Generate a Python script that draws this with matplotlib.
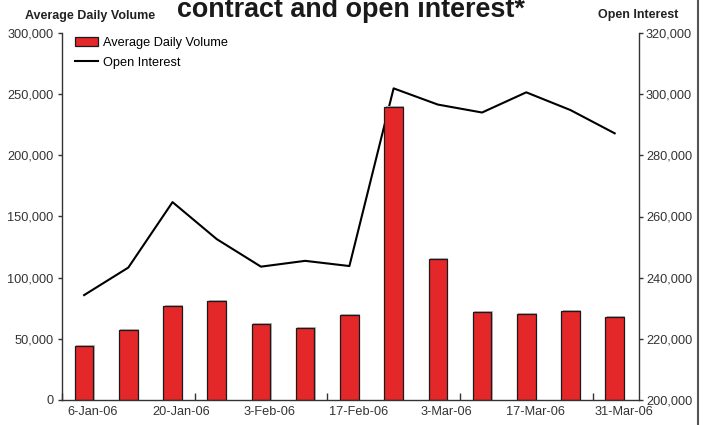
import numpy as np
import matplotlib.pyplot as plt
from matplotlib.ticker import FuncFormatter

weeks = ['6-Jan-06', '13-Jan-06', '20-Jan-06', '27-Jan-06', '3-Feb-06', '10-Feb-06',
         '17-Feb-06', '24-Feb-06', '3-Mar-06', '10-Mar-06', '17-Mar-06', '24-Mar-06', '31-Mar-06']
avg_daily_volume = [44100, 57000, 76800, 80700, 62100, 58900, 69700,
                    239900, 115300, 71700, 70600, 72500, 68100]
open_interest = [234300, 243300, 264700, 252600, 243600, 245500, 243800,
                 301900, 296600, 294000, 300600, 294800, 287200]

plt.rcParams['font.family'] = ['Liberation Sans', 'DejaVu Sans']
grey_txt = '#333333'

fig = plt.figure(figsize=(7.08, 4.25), dpi=100)
ax = fig.add_axes([62 / 708, 25 / 425, 577 / 708, 367 / 425])
ax2 = ax.twinx()
ax.set_zorder(ax2.get_zorder() + 1)
ax.patch.set_visible(False)

x = np.arange(len(weeks))
w = 0.42

# soft grey shadow behind each bar, then the bars themselves
ax.bar(x + 0.03, np.array(avg_daily_volume) + 700, width=w, color='#b8b8b8',
       edgecolor='none', zorder=1)
bars = ax.bar(x, avg_daily_volume, width=w, color='#e42728', edgecolor='#1a1a1a',
              linewidth=0.9, zorder=2)

line, = ax2.plot(x, open_interest, color='black', linewidth=1.5, zorder=3)

ax.set_xlim(-0.5, 12.55)
ax.set_ylim(0, 300000)
ax2.set_ylim(200000, 320000)

comma = FuncFormatter(lambda v, p: f'{int(v):,}')
ax.set_yticks(np.arange(0, 300001, 50000))
ax.yaxis.set_major_formatter(comma)
ax2.set_yticks(np.arange(200000, 320001, 20000))
ax2.yaxis.set_major_formatter(comma)

# tick marks on group boundaries, labels every second week
ax.set_xticks([-0.5, 2.5, 5.5, 8.5, 11.5])
ax.set_xticklabels([])
ax.tick_params(axis='x', which='major', direction='in', length=5, width=1, color='#333333')
ax.set_xticks(x[::2] + 0.2, minor=True)
ax.set_xticklabels(weeks[::2], minor=True)
ax.tick_params(axis='x', which='minor', length=0, pad=4, labelsize=9.2, labelcolor=grey_txt)

ax.tick_params(axis='y', direction='out', length=3, width=1, pad=3, labelsize=9.2,
               labelcolor=grey_txt, color='#333333')
ax2.tick_params(axis='y', direction='out', length=3, width=1, pad=2, labelsize=9.2,
                labelcolor=grey_txt, color='#333333')

for a in (ax, ax2):
    a.spines['top'].set_visible(False)
ax.spines['right'].set_visible(False)
ax2.spines['left'].set_visible(False)
ax2.spines['bottom'].set_visible(False)
for s in ('left', 'bottom'):
    ax.spines[s].set_color('#333333')
    ax.spines[s].set_linewidth(1)
ax2.spines['right'].set_color('#333333')
ax2.spines['right'].set_linewidth(1)

ax.legend([bars, line], ['Average Daily Volume', 'Open Interest'], loc='upper left',
          bbox_to_anchor=(0.022, 0.99), frameon=False, fontsize=9.2,
          handlelength=1.85, handletextpad=0.35, labelspacing=0.62, borderpad=0,
          borderaxespad=0)

fig.text(90 / 708, 1 - 16 / 425, 'Average Daily Volume', ha='center', va='center',
         fontsize=9, fontweight='bold', color='#222222')
fig.text(638 / 708, 1 - 15 / 425, 'Open Interest', ha='center', va='center',
         fontsize=9, fontweight='bold', color='#222222')
fig.text(351 / 708, 1 - 17 / 425, 'contract and open interest*', ha='center',
         va='baseline', fontsize=19.4, fontweight='bold', color='#1a1a1a')

# frame edge on the right side
fig.add_artist(plt.Line2D([698 / 708, 698 / 708], [0, 1], color='#555555', linewidth=1.5))

fig.savefig('out.png', dpi=100)
